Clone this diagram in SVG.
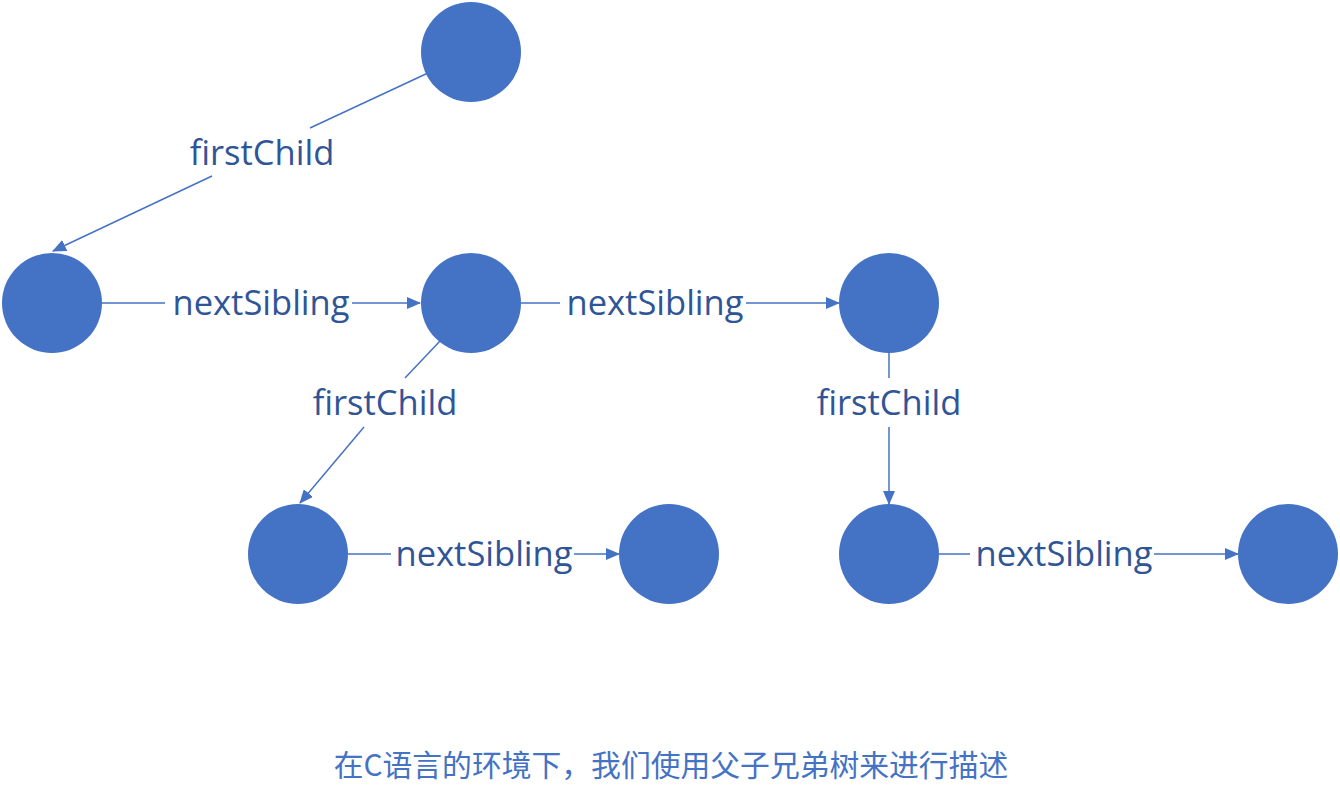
<svg xmlns="http://www.w3.org/2000/svg" width="1340" height="800" viewBox="0 0 1340 800">
<style>
.node{fill:#4472C4;}
.edge{stroke:#4472C4;stroke-width:1.5;fill:none;}
.lbl{font-family:"Open Sans","Noto Sans","Liberation Sans",sans-serif;font-size:34.5px;fill:#2F5597;text-anchor:middle;dominant-baseline:central;}
.cap{font-family:"Noto Sans CJK SC","Noto Sans",sans-serif;font-size:29.8px;fill:#4472C4;text-anchor:middle;}
</style>
<defs>
<marker id="arr" markerUnits="userSpaceOnUse" markerWidth="14" markerHeight="12" viewBox="0 0 14 12" refX="13" refY="6" orient="auto">
<path d="M0,0 L14,6 L0,12 Z" fill="#4472C4"/>
</marker>
</defs>
<rect width="1340" height="800" fill="#ffffff"/>
<g id="connectors">
<line class="edge" x1="428" y1="73" x2="310" y2="128"/>
<line class="edge" x1="212" y1="176" x2="53" y2="251" marker-end="url(#arr)"/>
<line class="edge" x1="102" y1="303" x2="165" y2="303"/>
<line class="edge" x1="352" y1="303" x2="420" y2="303" marker-end="url(#arr)"/>
<line class="edge" x1="521" y1="303" x2="560" y2="303"/>
<line class="edge" x1="746" y1="303" x2="839" y2="303" marker-end="url(#arr)"/>
<line class="edge" x1="440" y1="341" x2="405" y2="378"/>
<line class="edge" x1="364" y1="427" x2="300" y2="503" marker-end="url(#arr)"/>
<line class="edge" x1="889" y1="353" x2="889" y2="378"/>
<line class="edge" x1="889" y1="427" x2="889" y2="504" marker-end="url(#arr)"/>
<line class="edge" x1="348" y1="554" x2="391" y2="554"/>
<line class="edge" x1="574" y1="554" x2="619" y2="554" marker-end="url(#arr)"/>
<line class="edge" x1="939" y1="554" x2="970" y2="554"/>
<line class="edge" x1="1154" y1="554" x2="1238" y2="554" marker-end="url(#arr)"/>
<text class="lbl" x="262" y="151">firstChild</text>
<text class="lbl" x="261" y="301">nextSibling</text>
<text class="lbl" x="655" y="301">nextSibling</text>
<text class="lbl" x="385" y="401">firstChild</text>
<text class="lbl" x="889" y="401">firstChild</text>
<text class="lbl" x="484" y="552">nextSibling</text>
<text class="lbl" x="1064" y="552">nextSibling</text>
</g>
<g id="root"><circle class="node" cx="471" cy="52" r="50"/></g>
<g id="a"><circle class="node" cx="52" cy="303" r="50"/></g>
<g id="b"><circle class="node" cx="471" cy="303" r="50"/></g>
<g id="c"><circle class="node" cx="889" cy="303" r="50"/></g>
<g id="d"><circle class="node" cx="298" cy="554" r="50"/></g>
<g id="e"><circle class="node" cx="669" cy="554" r="50"/></g>
<g id="f"><circle class="node" cx="889" cy="554" r="50"/></g>
<g id="g"><circle class="node" cx="1288" cy="554" r="50"/></g>
<g id="caption"><text class="cap" x="671" y="776">在C语言的环境下，我们使用父子兄弟树来进行描述</text></g>
</svg>
